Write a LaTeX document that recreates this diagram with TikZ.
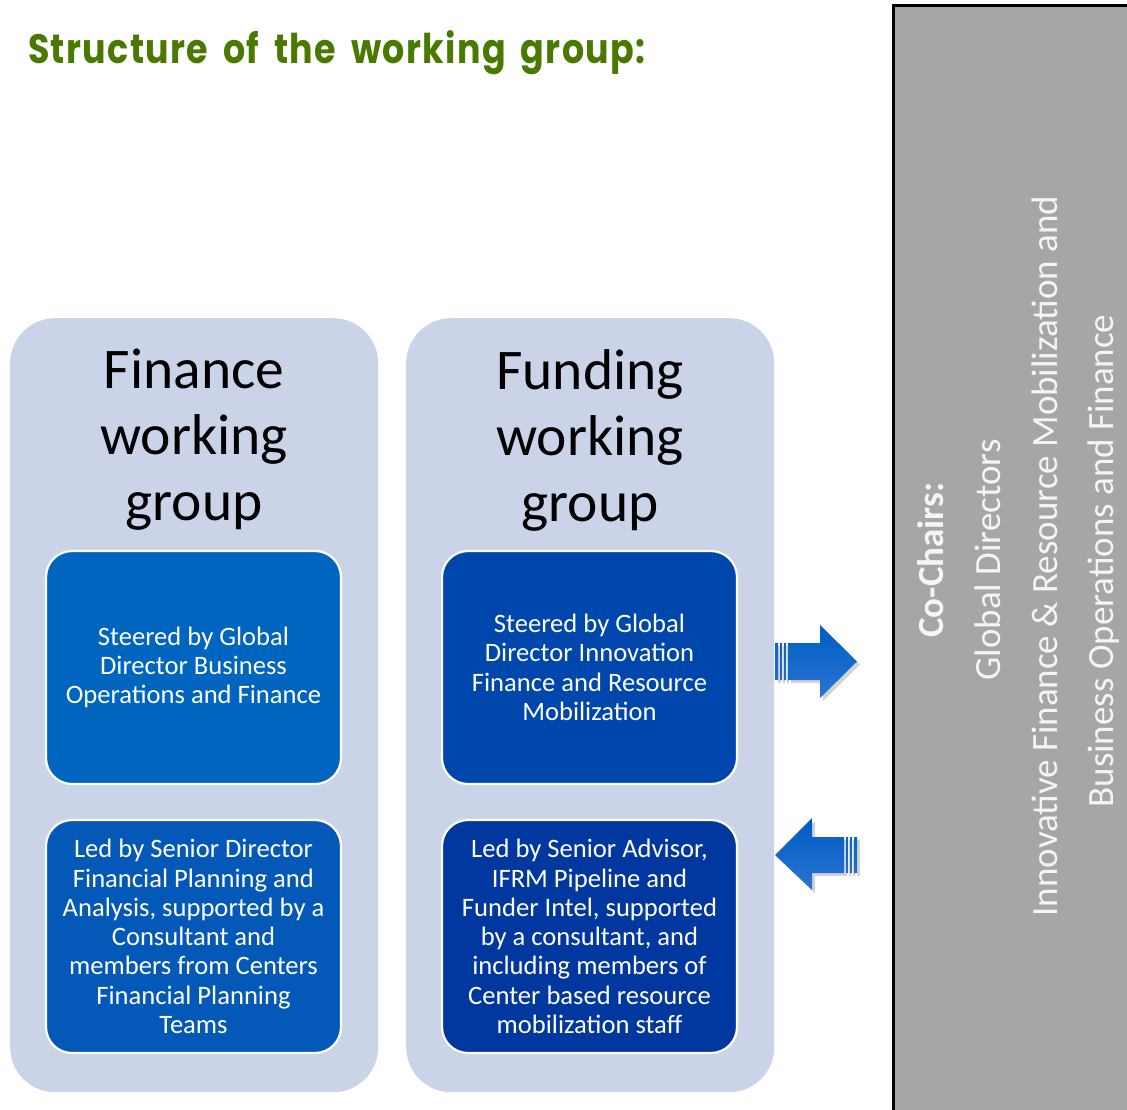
\documentclass[tikz,border=0pt]{standalone}
\usepackage{fontspec}
\setmainfont{Carlito}
\newfontfamily\titlefont{Poppins}[LetterSpace=4, WordSpace=1.7]
\usetikzlibrary{shadows}
\definecolor{titlegreen}{RGB}{74,121,0}
\definecolor{panel}{RGB}{203,211,232}
\definecolor{finA}{RGB}{0,101,191}
\definecolor{finB}{RGB}{4,89,184}
\definecolor{fundA}{RGB}{0,71,173}
\definecolor{fundB}{RGB}{0,56,160}
\definecolor{arrowA}{RGB}{0,92,196}
\definecolor{arrowB}{RGB}{42,116,210}
\definecolor{chairgray}{RGB}{166,166,166}
\definecolor{chairtext}{RGB}{245,245,245}
\begin{document}
\begin{tikzpicture}[x=1pt,y=-1pt,
  panelbox/.style={fill=panel, rounded corners=45pt, minimum width=368pt,
    minimum height=774pt, anchor=north west, inner sep=0pt},
  heading/.style={font=\fontsize{57.5}{66}\selectfont, align=center,
    inner sep=0pt, text=black},
  bluebox/.style={draw=white, line width=2.2pt, rounded corners=26pt,
    minimum width=295pt, minimum height=233pt, inner sep=0pt,
    align=center, text=white, font=\fontsize{26.6}{29.3}\selectfont},
  sidetext/.style={rotate=90, anchor=base, inner sep=0pt, text=chairtext,
    font=\fontsize{37}{44}\selectfont},
  blockarrow/.style={top color=arrowA, bottom color=arrowB,
    drop shadow={opacity=0.35, shadow xshift=3pt, shadow yshift=-3pt}}]
\useasboundingbox (0,0) rectangle (1127,1109);
\clip (0,0) rectangle (1127,1109);

% heading
\node[anchor=base west, inner sep=0pt, text=titlegreen, xscale=0.85,
  font=\titlefont\bfseries\fontsize{41}{48}\selectfont] (title) at (28,63)
  {Structure of the working group:};

% co-chairs panel
\draw[fill=chairgray, draw=black, line width=2.6pt] (893.3,5.3) rectangle (1140,1130);
\node[sidetext, font=\bfseries\fontsize{37}{44}\selectfont] (cochairs) at (943,560) {Co-Chairs:};
\node[sidetext] (globaldir) at (1000,560) {Global Directors};
\node[sidetext] (ifrm) at (1057,556) {Innovative Finance \& Resource Mobilization and};
\node[sidetext] (busops) at (1113,561) {Business Operations and Finance};

% working group panels
\node[panelbox] (finpanel) at (10,318) {};
\node[panelbox] (fundpanel) at (406,318) {};

\node[heading] (finhead) at (194,440) {Finance\\working\\group};
\node[heading] (fundhead) at (590,440) {Funding\\working\\group};

\node[bluebox, fill=finA] (finsteer) at (193.5,667.5)
  {Steered by Global\\Director Business\\Operations and Finance};
\node[bluebox, fill=finB] (finlead) at (193.5,936.5)
  {Led by Senior Director\\Financial Planning and\\Analysis, supported by a\\Consultant and\\members from Centers\\Financial Planning\\Teams};
\node[bluebox, fill=fundA] (fundsteer) at (589.5,667.5)
  {Steered by Global\\Director Innovation\\Finance and Resource\\Mobilization};
\node[bluebox, fill=fundB] (fundlead) at (589.5,936.5)
  {Led by Senior Advisor,\\IFRM Pipeline and\\Funder Intel, supported\\by a consultant, and\\including members of\\Center based resource\\mobilization staff};

% striped block arrows between the panels and the co-chairs
\shade[blockarrow]
  (775,643) rectangle (778,680)
  (780,643) rectangle (782,680)
  (784,643) rectangle (786,680)
  (788,643) -- (820,643) -- (820,625) -- (857,661.5) -- (820,698) -- (820,680) -- (788,680) -- cycle;
\shade[blockarrow]
  (857,837) rectangle (854,873)
  (852,837) rectangle (850,873)
  (848,837) rectangle (846,873)
  (844,837) -- (812,837) -- (812,818) -- (775,855) -- (812,890) -- (812,873) -- (844,873) -- cycle;
\end{tikzpicture}
\end{document}
